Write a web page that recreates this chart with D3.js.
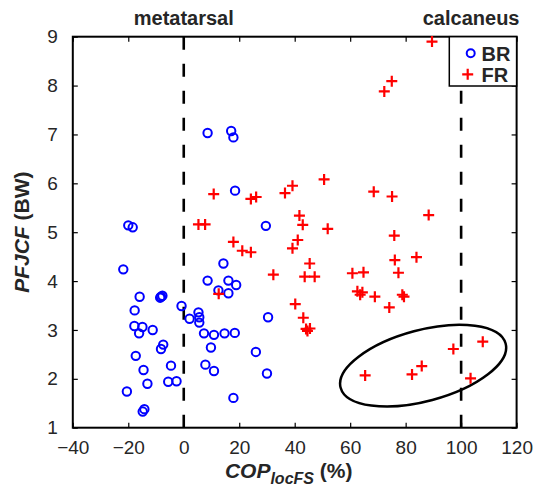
<!DOCTYPE html>
<html>
<head>
<meta charset="utf-8">
<script src="https://cdn.jsdelivr.net/npm/d3@7"></script>
<style>
  body { margin: 0; background: #fff; }
  svg { display: block; }
  text { font-family: "Liberation Sans", Arial, Helvetica, sans-serif; fill: #262626; }
  .tick text { font-size: 19px; }
  .lbl { font-weight: bold; }
</style>
</head>
<body>
<div id="chart"></div>
<script>
// BR series (circles)
var brX = [8.6, 17.1, 17.9, 18.5, -20.0, -18.4, 29.6, -21.8, 14.3, 8.6,
           16.1, 18.9, 12.5, 16.1, -15.9, -8.5, -7.7, -8.2, -17.7, -0.8,
           2.1, 5.3, 5.6, 5.6, -17.8, -14.9, -16.1, -11.2, 7.3, 10.9,
           14.7, 18.4, 30.4, -7.4, -8.2, 9.8, -17.3, 26.0, -4.6, 7.8,
           10.9, -14.5, 30.0, -5.6, -2.6, -13.1, -20.5, 17.9, -14.8, -14.2];
var brY = [7.03, 7.07, 6.94, 5.85, 5.14, 5.10, 5.13, 4.24, 4.36, 4.01,
           4.01, 3.92, 3.81, 3.75, 3.68, 3.66, 3.70, 3.68, 3.40, 3.49,
           3.23, 3.36, 3.26, 3.15, 3.08, 3.06, 2.93, 3.00, 2.93, 2.90,
           2.93, 2.94, 3.26, 2.70, 2.61, 2.64, 2.47, 2.55, 2.27, 2.29,
           2.16, 2.18, 2.11, 1.94, 1.95, 1.90, 1.74, 1.61, 1.33, 1.38];

// FR series (plus signs)
var frX = [89.5, 75.0, 72.3, 50.6, 39.2, 36.5, 68.5, 75.1, 10.8, 24.2,
           26.1, 5.3, 7.7, 41.7, 42.9, 51.9, 88.3, 17.9, 21.1, 24.2,
           41.1, 39.2, 75.9, 45.4, 76.1, 83.9, 32.3, 43.6, 47.2, 60.8,
           64.8, 77.4, 12.6, 62.6, 64.4, 63.6, 68.9, 78.8, 79.4, 74.1,
           40.2, 43.1, 44.1, 45.5, 44.6, 65.4, 97.2, 107.8, 85.8, 82.3, 103.4];
var frY = [8.90, 8.09, 7.88, 6.08, 5.95, 5.80, 5.83, 5.73, 5.78, 5.68,
           5.72, 5.16, 5.16, 5.34, 5.15, 5.07, 5.35, 4.80, 4.62, 4.59,
           4.84, 4.67, 4.93, 4.36, 4.43, 4.49, 4.13, 4.09, 4.09, 4.16,
           4.18, 4.17, 3.74, 3.79, 3.77, 3.72, 3.68, 3.72, 3.68, 3.46,
           3.53, 3.25, 3.02, 3.03, 2.98, 2.07, 2.61, 2.76, 2.26, 2.09, 2.01];

var xTicks = [-40, -20, 0, 20, 40, 60, 80, 100, 120];
var yTicks = [1, 2, 3, 4, 5, 6, 7, 8, 9];
var regionX = [0, 100];
var regionNames = ['metatarsal', 'calcaneus'];
var legendNames = ['BR', 'FR'];
// circled group: centre in data units
var groupCentre = [86.3, 2.27];

var W = 534, H = 493;
var margin = {left: 72.8, top: 36.7, right: 17.4, bottom: 65.3};
var w = W - margin.left - margin.right;
var h = H - margin.top - margin.bottom;

var svg = d3.select('#chart').append('svg')
  .attr('width', W).attr('height', H);

var g = svg.append('g')
  .attr('transform', 'translate(' + margin.left + ',' + margin.top + ')');

var x = d3.scaleLinear().domain([-40, 120]).range([0, w]);
var y = d3.scaleLinear().domain([1, 9]).range([h, 0]);

// axes with inward ticks on all sides
g.append('g').attr('transform', 'translate(0,' + h + ')')
  .call(d3.axisBottom(x).tickValues(xTicks).tickSizeInner(-5).tickSizeOuter(0).tickPadding(13)
    .tickFormat(function(d) { return d < 0 ? '\u2212' + Math.abs(d) : d; }));
g.append('g')
  .call(d3.axisTop(x).tickValues(xTicks).tickSizeInner(-5).tickSizeOuter(0).tickFormat(''));
g.append('g')
  .call(d3.axisLeft(y).tickValues(yTicks).tickSizeInner(-5).tickSizeOuter(0).tickPadding(15));
g.append('g').attr('transform', 'translate(' + w + ',0)')
  .call(d3.axisRight(y).tickValues(yTicks).tickSizeInner(-5).tickSizeOuter(0).tickFormat(''));

g.selectAll('.domain').remove();
g.selectAll('.tick line').attr('stroke', '#000').attr('stroke-width', 1.2);
g.append('rect').attr('width', w).attr('height', h)
  .attr('fill', 'none').attr('stroke', '#000').attr('stroke-width', 2);

// region dashed lines
g.selectAll('.region').data(regionX).enter().append('line')
  .attr('x1', function(d) { return x(d); }).attr('x2', function(d) { return x(d); })
  .attr('y1', 0).attr('y2', h)
  .attr('stroke', '#000').attr('stroke-width', 2.6).attr('stroke-dasharray', '13,14');

svg.selectAll('.regname').data(regionNames).enter().append('text')
  .attr('class', 'lbl')
  .attr('x', function(d, i) { return margin.left + (i == 0 ? x(regionX[0]) : x(regionX[1]) + 10); })
  .attr('y', 25)
  .attr('text-anchor', 'middle')
  .style('font-size', '20px')
  .text(function(d) { return d; });

// ellipse round the FR cluster
g.append('ellipse')
  .attr('cx', 0).attr('cy', 0).attr('rx', 85.4).attr('ry', 35.6)
  .attr('transform', 'translate(' + x(groupCentre[0]) + ',' + y(groupCentre[1]) + ') rotate(-15)')
  .attr('fill', 'none').attr('stroke', '#000').attr('stroke-width', 2.5);

// BR circles
g.selectAll('.br').data(brX).enter().append('circle')
  .attr('cx', function(d) { return x(d); })
  .attr('cy', function(d, i) { return y(brY[i]); })
  .attr('r', 4.2)
  .attr('fill', 'none').attr('stroke', '#0000ff').attr('stroke-width', 2);

// FR plus signs
var plus = 'M-5.5,0H5.5M0,-5.5V5.5';
g.selectAll('.fr').data(frX).enter().append('path')
  .attr('d', plus)
  .attr('transform', function(d, i) { return 'translate(' + x(d) + ',' + y(frY[i]) + ')'; })
  .attr('fill', 'none').attr('stroke', '#ff0000').attr('stroke-width', 2.2);

// legend
var lg = svg.append('g');
lg.append('rect').attr('x', 449.3).attr('y', margin.top).attr('width', 67.3).attr('height', 49.3)
  .attr('fill', '#fff').attr('stroke', '#000').attr('stroke-width', 1.5);
lg.append('circle').attr('cx', 470.7).attr('cy', 53.3).attr('r', 4)
  .attr('fill', 'none').attr('stroke', '#0000ff').attr('stroke-width', 2);
lg.append('path').attr('d', plus).attr('transform', 'translate(467.7,74.3)')
  .attr('fill', 'none').attr('stroke', '#ff0000').attr('stroke-width', 2.2);
lg.selectAll('.lgtext').data(legendNames).enter().append('text')
  .attr('class', 'lbl')
  .attr('x', 481.5)
  .attr('y', function(d, i) { return 61 + i * 20.5; })
  .style('font-size', '20px')
  .text(function(d) { return d; });

// axis labels
var xl = svg.append('text').attr('class', 'lbl')
  .attr('x', margin.left + w / 2 - 6).attr('y', 478)
  .attr('text-anchor', 'middle').style('font-size', '21px');
xl.append('tspan').style('font-style', 'italic').text('COP');
xl.append('tspan').style('font-style', 'italic').style('font-size', '16px').attr('dy', 6).text('locFS');
xl.append('tspan').attr('dy', -6).text(' (%)');

var yl = svg.append('text').attr('class', 'lbl')
  .attr('transform', 'translate(29,' + (margin.top + h / 2) + ') rotate(-90)')
  .attr('text-anchor', 'middle').style('font-size', '21px');
yl.append('tspan').style('font-style', 'italic').text('PFJCF');
yl.append('tspan').text(' (BW)');
</script>
</body>
</html>
